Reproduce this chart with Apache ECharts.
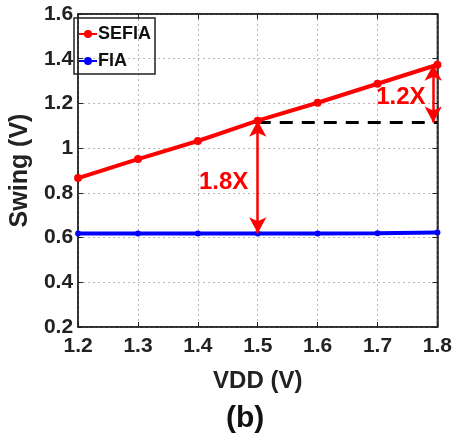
<!DOCTYPE html>
<html><head><meta charset="utf-8">
<script src="https://cdn.jsdelivr.net/npm/echarts@6/dist/echarts.min.js"></script>
<style>html,body{margin:0;padding:0;background:#fff}#c{width:455px;height:441px}</style>
</head><body><div id="c"></div>
<script>
const vdd = [1.2, 1.3, 1.4, 1.5, 1.6, 1.7, 1.8];
const sefia = [0.866, 0.951, 1.032, 1.123, 1.203, 1.288, 1.373];
const fia = [0.618, 0.618, 0.618, 0.618, 0.618, 0.619, 0.623];
const refLevel = [[1.5, 1.115], [1.8, 1.115]];
const arrow18 = [[1.5, 1.123], [1.5, 0.619]];
const arrow12 = [[1.793, 1.373], [1.793, 1.115]];
const labels = [{x: 1.443, y: 0.848, text: '1.8X'}, {x: 1.739, y: 1.227, text: '1.2X'}];
const xTicks = ['1.2','1.3','1.4','1.5','1.6','1.7','1.8'];

const FONT = "'Liberation Sans', Arial, sans-serif";
const chart = echarts.init(document.getElementById('c'));
const pair = (xs, ys) => xs.map((x, i) => [x, ys[i]]);
const gridSplit = {show: true, lineStyle: {color: '#b8b8b8', type: [2, 3], width: 1}};
const lab = {fontFamily: FONT, fontWeight: 'bold', fontSize: 21, color: '#222'};
const arrowLine = (pts) => ({
  type: 'line', data: [], silent: true,
  markLine: {
    silent: true, symbol: ['arrow', 'arrow'], symbolSize: [13, 16],
    lineStyle: {color: '#ff0000', width: 2.5, type: 'solid'},
    label: {show: false},
    data: [[{coord: pts[0]}, {coord: pts[1]}]]
  }
});
chart.setOption({
  animation: false,
  grid: {left: 69, right: 16, top: 14, bottom: 114, show: true, borderColor: '#222', borderWidth: 1.5},
  legend: {
    left: 74, top: 18, orient: 'vertical', borderColor: '#222', borderWidth: 1.5,
    padding: [7, 4, 4, 4], itemGap: 9, itemWidth: 18, itemHeight: 10,
    textStyle: {fontFamily: FONT, fontWeight: 'bold', fontSize: 18, color: '#111', padding: [0, 0, 0, -4]},
    data: ['SEFIA', 'FIA']
  },
  xAxis: [{
    type: 'value', min: 1.2, max: 1.8, interval: 0.1,
    name: 'VDD (V)', nameLocation: 'middle', nameGap: 42,
    nameTextStyle: Object.assign({}, lab, {fontSize: 24}),
    axisLine: {show: true, lineStyle: {color: '#222', width: 1.5}},
    axisTick: {show: true, inside: true, length: 5, lineStyle: {color: '#222'}},
    axisLabel: Object.assign({}, lab, {margin: 9, formatter: v => xTicks[Math.round((v - 1.2) * 10)]}),
    splitLine: gridSplit
  }, {
    type: 'value', min: 1.2, max: 1.8, interval: 0.1, position: 'top',
    axisLine: {show: true, lineStyle: {color: '#222', width: 1.5}},
    axisTick: {show: true, inside: true, length: 5, lineStyle: {color: '#222'}},
    axisLabel: {show: false}, splitLine: {show: false}
  }],
  yAxis: [{
    type: 'value', min: 0.2, max: 1.6, interval: 0.2,
    name: 'Swing (V)', nameLocation: 'middle', nameGap: 39,
    nameTextStyle: Object.assign({}, lab, {fontSize: 25}),
    axisLine: {show: true, lineStyle: {color: '#222', width: 1.5}},
    axisTick: {show: true, inside: true, length: 5, lineStyle: {color: '#222'}},
    axisLabel: Object.assign({}, lab, {margin: 5, formatter: v => String(+v.toFixed(1))}),
    splitLine: gridSplit
  }, {
    type: 'value', min: 0.2, max: 1.6, interval: 0.2, position: 'right',
    axisLine: {show: true, lineStyle: {color: '#222', width: 1.5}},
    axisTick: {show: true, inside: true, length: 5, lineStyle: {color: '#222'}},
    axisLabel: {show: false}, splitLine: {show: false}
  }],
  graphic: [{
    type: 'text', left: 226, top: 404,
    style: {text: '(b)', fontFamily: FONT, fontWeight: 'bold', fontSize: 30, fill: '#111'}
  }],
  series: [
    {
      name: 'SEFIA', type: 'line', data: pair(vdd, sefia), z: 5,
      symbol: 'circle', symbolSize: 8, showSymbol: true,
      lineStyle: {color: '#ff0000', width: 4}, itemStyle: {color: '#ff0000'}
    },
    {
      name: 'FIA', type: 'line', data: pair(vdd, fia), z: 4,
      symbol: 'circle', symbolSize: 6,
      lineStyle: {color: '#0000ff', width: 4}, itemStyle: {color: '#0000ff'}
    },
    {
      type: 'line', data: refLevel, symbol: 'none', z: 3, silent: true,
      lineStyle: {color: '#000', width: 3, type: [13, 9]}
    },
    arrowLine(arrow18),
    arrowLine(arrow12),
    {
      type: 'scatter', symbolSize: 1, silent: true, z: 6,
      itemStyle: {opacity: 0},
      data: labels.map(l => ({value: [l.x, l.y], name: l.text})),
      label: {show: true, position: 'inside', formatter: p => p.name, opacity: 1,
        fontFamily: FONT, fontWeight: 'bold', fontSize: 24, color: '#ff0000'}
    }
  ]
});
</script></body></html>
